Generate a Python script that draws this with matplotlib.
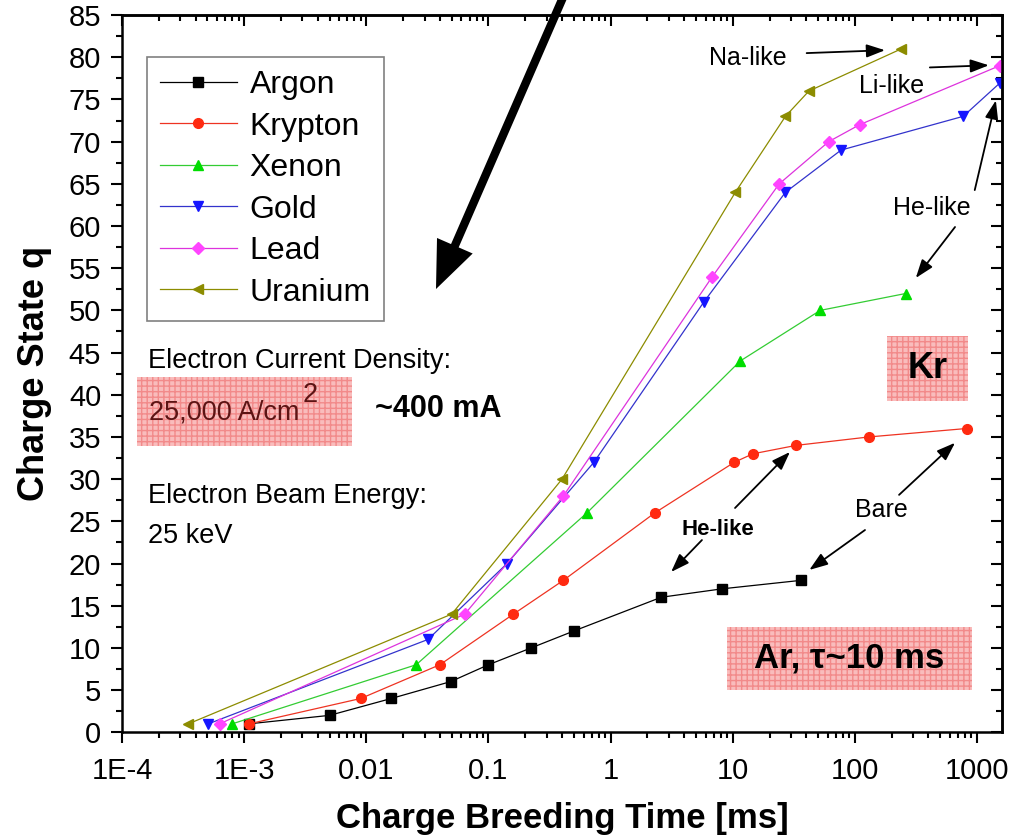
import matplotlib
matplotlib.use('Agg')
import matplotlib.pyplot as plt
from matplotlib.patches import Rectangle
from matplotlib.ticker import FixedLocator, NullFormatter, MultipleLocator, LogLocator

plt.rcParams['font.family'] = ['Liberation Sans', 'DejaVu Sans']
plt.rcParams['axes.linewidth'] = 1.8

# charge breeding time [ms] and charge state q
ar_t = [1.1e-3, 5.0e-3, 0.016, 0.049, 0.10, 0.224, 0.50, 2.6, 8.2, 36]
ar_q = [1, 2, 4, 6, 8, 10, 12, 16, 17, 18]
kr_t = [1.1e-3, 9.0e-3, 0.040, 0.16, 0.41, 2.3, 10.3, 14.6, 33, 130, 820]
kr_q = [1, 4, 8, 14, 18, 26, 32, 33, 34, 35, 36]
xe_t = [8.0e-4, 0.0256, 0.64, 11.5, 52, 260]
xe_q = [1, 8, 26, 44, 50, 52]
au_t = [5.1e-4, 0.032, 0.142, 0.73, 5.8, 27, 77, 770, 1550]
au_q = [1, 11, 20, 32, 51, 64, 69, 73, 77]
pb_t = [6.3e-4, 0.064, 0.41, 6.8, 24, 61, 109, 1530]
pb_q = [1, 14, 28, 54, 65, 70, 72, 79]
u_t = [3.5e-4, 0.050, 0.40, 10.5, 27, 42, 240]
u_q = [1, 14, 30, 64, 73, 76, 81]

xtick_vals = [1e-4, 1e-3, 1e-2, 0.1, 1, 10, 100, 1000]
xtick_labels = ['1E-4', '1E-3', '0.01', '0.1', '1', '10', '100', '1000']

series = [
    ('Argon', ar_t, ar_q, 's', 'black', 'black', 6.5),
    ('Krypton', kr_t, kr_q, 'o', '#ee3322', '#ff2a10', 7),
    ('Xenon', xe_t, xe_q, '^', '#33cc33', '#00dd00', 7.5),
    ('Gold', au_t, au_q, 'v', '#3333cc', '#1515ff', 7.5),
    ('Lead', pb_t, pb_q, 'D', '#dd33dd', '#ff44ff', 6.5),
    ('Uranium', u_t, u_q, '<', '#8c8c00', '#8c8c00', 7.5),
]

fig = plt.figure(figsize=(10.1, 8.38), dpi=100)
ax = fig.add_axes([0.1208, 0.1262, 0.8713, 0.8558])

for name, t, q, mk, lc, mc, ms in series:
    ax.plot(t, q, color=lc, lw=0.9, marker=mk, ms=ms, mfc=mc, mec=mc, label=name)

ax.set_xscale('log')
ax.set_xlim(1e-4, 1600)
ax.set_ylim(0, 85)

ax.xaxis.set_major_locator(FixedLocator(xtick_vals))
ax.set_xticklabels(xtick_labels)
ax.xaxis.set_minor_locator(LogLocator(base=10, subs=range(2, 10), numticks=20))
ax.xaxis.set_minor_formatter(NullFormatter())
ax.yaxis.set_major_locator(MultipleLocator(5))
ax.yaxis.set_minor_locator(MultipleLocator(2.5))
ax.tick_params(which='major', direction='out', length=8, width=1.5, labelsize=21, pad=7)
ax.tick_params(which='minor', direction='out', length=4.5, width=1.5)
ax.tick_params(axis='x', which='major', pad=10)

# top / right ticks point inward
top = ax.secondary_xaxis('top')
top.xaxis.set_major_locator(FixedLocator(xtick_vals))
top.xaxis.set_minor_locator(LogLocator(base=10, subs=range(2, 10), numticks=20))
top.tick_params(which='major', direction='in', length=8, width=1.5, labeltop=False)
top.tick_params(which='minor', direction='in', length=4.5, width=1.5)
top.xaxis.set_major_formatter(NullFormatter())
top.xaxis.set_minor_formatter(NullFormatter())
right = ax.secondary_yaxis('right')
right.yaxis.set_major_locator(MultipleLocator(5))
right.yaxis.set_minor_locator(MultipleLocator(2.5))
right.tick_params(which='major', direction='in', length=8, width=1.5, labelright=False)
right.tick_params(which='minor', direction='in', length=4.5, width=1.5)
right.yaxis.set_major_formatter(NullFormatter())

ax.set_xlabel('Charge Breeding Time [ms]', fontsize=25, fontweight='bold', labelpad=12)
ax.set_ylabel('Charge State q', fontsize=26, fontweight='bold', labelpad=12)

leg = ax.legend(loc='upper left', bbox_to_anchor=(0.028, 0.942), fontsize=23,
                frameon=True, fancybox=False, edgecolor='#808080', framealpha=1,
                handlelength=2.4, handletextpad=0.4, labelspacing=0.36,
                borderpad=0.42, borderaxespad=0)
leg.get_frame().set_linewidth(1.2)

# pink hatched boxes
for x0, y0, x1, y1 in [(0.0167, 0.399, 0.261, 0.4958),
                       (0.869, 0.4623, 0.9614, 0.5525),
                       (0.6875, 0.059, 0.9659, 0.1468)]:
    ax.add_patch(Rectangle((x0, y0), x1 - x0, y1 - y0, transform=ax.transAxes,
                           facecolor='#f9bcbc', edgecolor='#f28a8a', lw=0,
                           hatch='+++', zorder=1))

ax.text(0.0295, 0.508, 'Electron Current Density:', transform=ax.transAxes, fontsize=19.5)
ax.text(0.0307, 0.4355, '25,000 A/cm', transform=ax.transAxes, fontsize=19.5, color='#5c1414')
ax.text(0.205, 0.4604, '2', transform=ax.transAxes, fontsize=19.5, color='#5c1414')
ax.text(0.2875, 0.4396, '~400 mA', transform=ax.transAxes, fontsize=22, fontweight='bold')
ax.text(0.0295, 0.3197, 'Electron Beam Energy:', transform=ax.transAxes, fontsize=19.5)
ax.text(0.0295, 0.2639, '25 keV', transform=ax.transAxes, fontsize=19.5)
ax.text(0.9152, 0.507, 'Kr', transform=ax.transAxes, fontsize=26, fontweight='bold',
        ha='center', va='center')
ax.text(0.8267, 0.1029, 'Ar, \u03c4~10 ms', transform=ax.transAxes, fontsize=25,
        fontweight='bold', ha='center', va='center')

ax.text(0.833, 0.300, 'Bare', transform=ax.transAxes, fontsize=18)
ax.text(0.636, 0.275, 'He-like', transform=ax.transAxes, fontsize=16, fontweight='bold')
ax.text(0.667, 0.930, 'Na-like', transform=ax.transAxes, fontsize=18)
ax.text(0.838, 0.891, 'Li-like', transform=ax.transAxes, fontsize=18)
ax.text(0.876, 0.721, 'He-like', transform=ax.transAxes, fontsize=18)

arrows = [
    ((0.883, 0.331), (0.9466, 0.4036)),
    ((0.8443, 0.282), (0.781, 0.2263)),
    ((0.6966, 0.3127), (0.759, 0.3908)),
    ((0.659, 0.268), (0.624, 0.2235)),
    ((0.778, 0.947), (0.867, 0.951)),
    ((0.918, 0.927), (0.985, 0.930)),
    ((0.969, 0.756), (0.993, 0.881)),
    ((0.9466, 0.7045), (0.902, 0.6334)),
]
for (sx, sy), (ex, ey) in arrows:
    ax.annotate('', xy=(ex, ey), xytext=(sx, sy), xycoords='axes fraction',
                textcoords='axes fraction', annotation_clip=False,
                arrowprops=dict(arrowstyle='-|>,head_length=0.7,head_width=0.25',
                                color='black', lw=1.3, mutation_scale=16,
                                shrinkA=0, shrinkB=0))

# big arrow coming from above
ax.annotate('', xy=(0.3568, 0.618), xytext=(0.503, 1.03), xycoords='axes fraction',
            textcoords='axes fraction', annotation_clip=False,
            arrowprops=dict(width=6, headwidth=28, headlength=34, color='black',
                            lw=0, shrink=0))

fig.savefig('out.png', dpi=100)
